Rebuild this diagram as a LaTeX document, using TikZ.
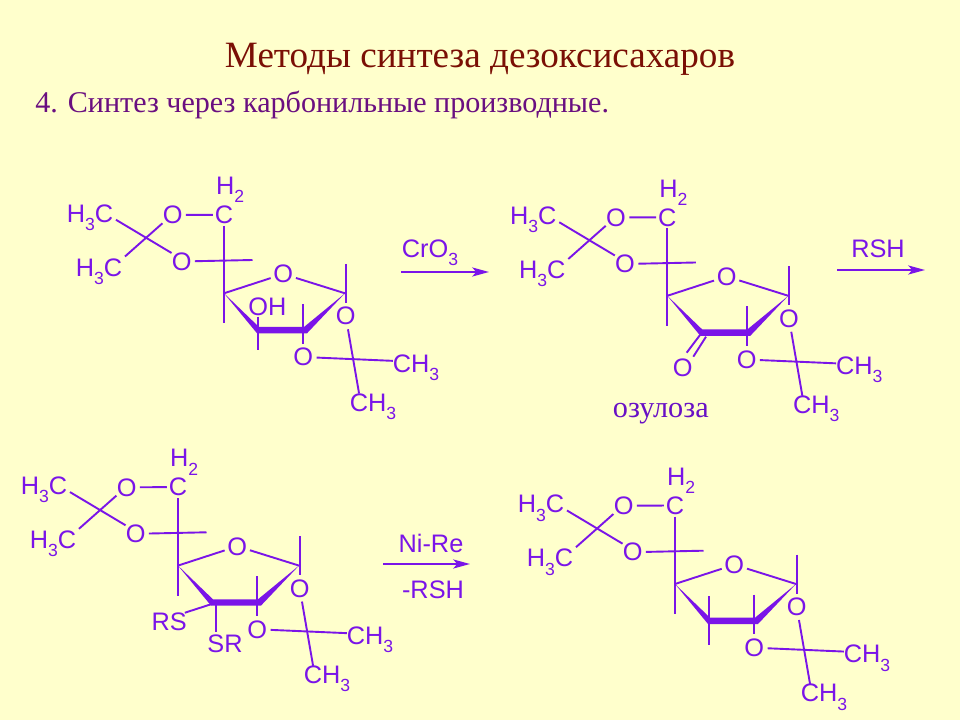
\documentclass[tikz,border=0pt]{standalone}
\usepackage{fontspec}
\setmainfont{Liberation Sans}
\newfontfamily\serifcyr{Liberation Serif}
\usetikzlibrary{arrows.meta, positioning}
\definecolor{chemviolet}{HTML}{7A14E8}
\definecolor{paleback}{HTML}{FFFFCC}
\definecolor{titlered}{HTML}{7A0F05}
\definecolor{subtitlepurple}{HTML}{6A0F80}
\newcommand{\lowidx}[1]{\raisebox{-0.32em}{\fontsize{12.5}{13}\selectfont #1}}
\tikzset{
	atom/.style={inner sep=0pt, outer sep=0pt, text=chemviolet, font=\fontsize{18}{20}\selectfont},
	oxy/.style={atom, circle, minimum size=0.62cm},
	bond/.style={draw=chemviolet, line width=1.35pt},
	wedge/.style={fill=chemviolet, draw=none},
	reaction/.style={draw=chemviolet, line width=1.35pt, -{Stealth[length=12pt, width=6.5pt, inset=3pt]}}
}
% Scheletro comune: prefisso, spostamento, parti proprie
\newcommand{\sugar}[3]{%
	\begin{scope}[shift={(#2)}, name prefix=#1-]
		% Atomi
		\node[atom, outer sep=2pt] (m1) at (40,57.5) {H\lowidx{3}C};
		\node[atom, outer sep=2pt] (m2) at (49,111.5) {H\lowidx{3}C};
		\node[oxy] (o1) at (122.7,55) {O};
		\node[oxy] (o2) at (131.7,101.5) {O};
		\node[atom, outer sep=1.5pt] (c6) at (174,54.8) {C};
		\node[atom, anchor=west] (h2) at (166,30) {H\lowidx{2}};
		\node[oxy] (o5) at (233.3,114) {O};
		\node[oxy] (o3) at (295.7,156.2) {O};
		\node[oxy] (o4) at (253.3,197) {O};
		\node[atom] (m3) at (366,207.5) {CH\lowidx{3}};
		\node[atom] (m4) at (323,246.5) {CH\lowidx{3}};
		% Vertici dell'anello e estremi liberi
		\coordinate (a) at (174,133.3);
		\coordinate (b) at (209,170);
		\coordinate (c) at (254,170);
		\coordinate (d) at (295,133.3);
		\coordinate (cdown) at (174,163.3);
		\coordinate (o2end) at (202.5,100);
		\coordinate (dtop) at (295.7,104);
		\coordinate (ctop) at (253.3,144);
		% Legami
		\draw[bond] (m1.-5) -- (o2.140);
		\draw[bond] (m2.30) -- (o1.219);
		\draw[bond] (o1) -- (c6);
		\draw[bond] (c6) -- (cdown);
		\draw[bond] (o2) -- (o2end);
		\draw[bond] (a) -- (o5);
		\draw[bond] (o5) -- (d);
		\draw[bond] (dtop) -- (o3);
		\draw[bond] (ctop) -- (o4);
		\draw[bond] (o3) -- (m4.137);
		\draw[bond] (o4) -- (m3.164);
		% Anello in grassetto
		\fill[wedge] (a) -- (209,167) -- (254,167) -- (d) -- (257,173.3) -- (207,173.3) -- cycle;
		#3
	\end{scope}}

\begin{document}
\begin{tikzpicture}[x=0.025cm, y=-0.025cm]
	\useasboundingbox[fill=paleback] (0,0) rectangle (960,720);

	% Titoli
	\node[text=titlered, font=\serifcyr\fontsize{26.4}{30}\selectfont] (title) at (480,59) {Методы синтеза дезоксисахаров};
	\node[text=subtitlepurple, inner sep=0pt, font=\serifcyr\fontsize{21.4}{24}\selectfont, anchor=west] (subtitle) at (35,105) {4. Синтез через карбонильные производные.};

	% Prima molecola
	\sugar{mola}{50,160}{
		\node[atom] (oh) at (217.3,146.7) {OH};
		\coordinate (btop) at (208.3,156.7);
		\coordinate (bdown) at (208.3,190);
		\draw[bond] (btop) -- (bdown);
	}
	% Chetone
	\sugar{molb}{493.3,162.5}{
		\node[oxy] (ok) at (189.4,204.8) {O};
		\coordinate (k1) at (206.7,172.5);
		\coordinate (k2) at (193.4,190.2);
		\coordinate (k3) at (212.7,174.2);
		\coordinate (k4) at (200,194.2);
		\draw[bond] (k1) -- (k2);
		\draw[bond] (k3) -- (k4);
		\node[font=\serifcyr\fontsize{21.5}{24}\selectfont, text=chemviolet!85!black] (ozul) at (167.5,251) {озулоза};
	}
	% Ditioacetale
	\sugar{molc}{4,432.3}{
		\node[atom] (rs) at (165.3,189.4) {RS};
		\node[atom] (sr) at (221,211) {SR};
		\coordinate (bb) at (210,171);
		\coordinate (bc) at (212,171);
		\coordinate (bd) at (212,199.4);
		\draw[bond] (rs.30) -- (bb);
		\draw[bond] (bc) -- (bd);
	}
	% Desossi
	\sugar{mold}{501,450.7}{
		\coordinate (btop) at (208.3,145.3);
		\coordinate (bdown) at (208.3,194.3);
		\draw[bond] (btop) -- (bdown);
	}

	% Reazioni
	\coordinate (r1s) at (401,272); \coordinate (r1e) at (489,272);
	\coordinate (r2s) at (837,270); \coordinate (r2e) at (925,270);
	\coordinate (r3s) at (383,564); \coordinate (r3e) at (470,564);
	\draw[reaction] (r1s) -- (r1e);
	\draw[reaction] (r2s) -- (r2e);
	\draw[reaction] (r3s) -- (r3e);
	\node[atom] (cro) at (430,253) {CrO\lowidx{3}};
	\node[atom] (rsh) at (878,249) {RSH};
	\node[atom] (nire) at (431,543) {Ni-Re};
	\node[atom] (mrsh) at (433,590) {-RSH};
\end{tikzpicture}
\end{document}
